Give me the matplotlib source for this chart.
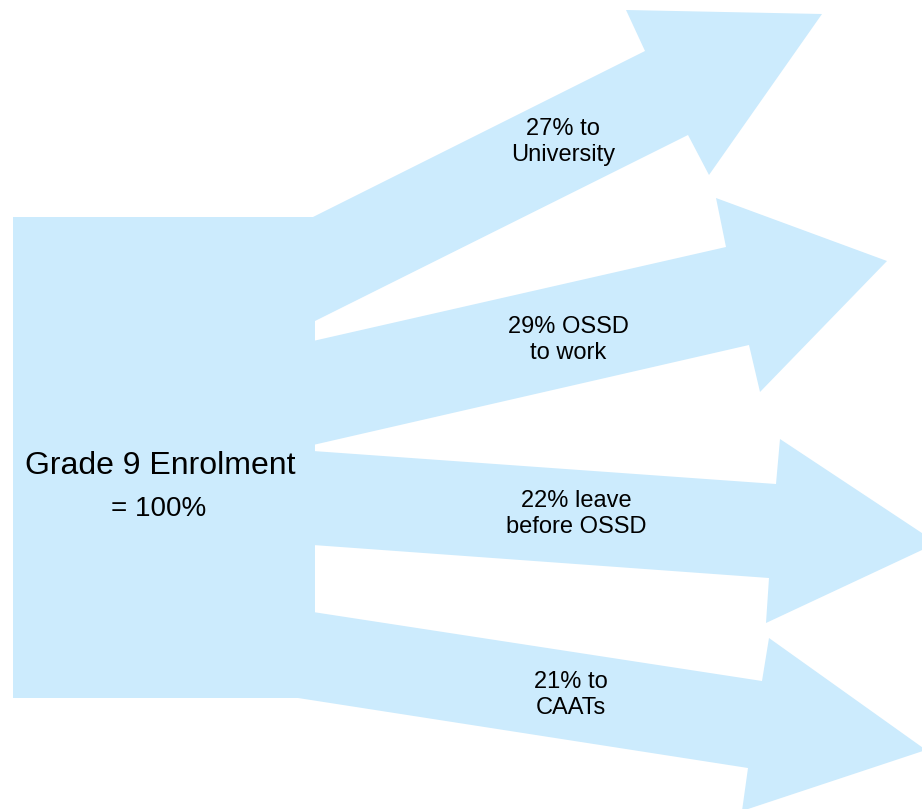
import matplotlib.pyplot as plt
from matplotlib.patches import Polygon, Rectangle

plt.rcParams['font.family'] = ['Liberation Sans', 'DejaVu Sans']

# flows out of grade 9
shares = [27, 29, 22, 21]
destinations = ["to\nUniversity", "OSSD\nto work", "leave\nbefore OSSD", "to\nCAATs"]
source_label = "Grade 9 Enrolment"
source_share = 100

FILL = '#CCEBFD'

# source block (pixel coords, y down)
box = (13, 217, 302, 481)  # x, y, w, h

# arrow outlines: tail top, shaft end, barb, tip, barb, shaft end, tail bottom
arrows = [
    [(313, 217), (645, 51), (626, 10), (822, 14), (709, 175), (688, 135), (313, 322)],
    [(313, 341), (726, 247), (716, 198), (887, 261), (760, 392), (749, 345), (313, 445)],
    [(313, 451), (776, 484), (780, 439), (937, 543), (766, 623), (769, 578), (313, 545)],
    [(313, 612), (762, 681), (769, 638), (926, 750), (742, 811), (748, 768), (298, 698)],
]
label_pos = [(563, 142), (568, 340), (576, 514), (571, 695)]

fig = plt.figure(figsize=(9.22, 8.09), dpi=100)
ax = fig.add_axes([0, 0, 1, 1])
ax.set_xlim(0, 922)
ax.set_ylim(809, 0)
ax.set_axis_off()

x, y, w, h = box
ax.add_patch(Rectangle((x, y), w, h, facecolor=FILL, edgecolor='none'))
for pts in arrows:
    ax.add_patch(Polygon(pts, closed=True, facecolor=FILL, edgecolor='none'))

ax.text(160, 466, source_label, fontsize=23, ha='center', va='center')
ax.text(159, 509, f"= {source_share}%", fontsize=20, ha='center', va='center')

for pct, dest, (lx, ly) in zip(shares, destinations, label_pos):
    first, second = dest.split("\n")
    ax.text(lx, ly, f"{pct}% {first}\n{second}", fontsize=17,
            ha='center', va='center', linespacing=1.26)

fig.savefig('out.png', dpi=100)
